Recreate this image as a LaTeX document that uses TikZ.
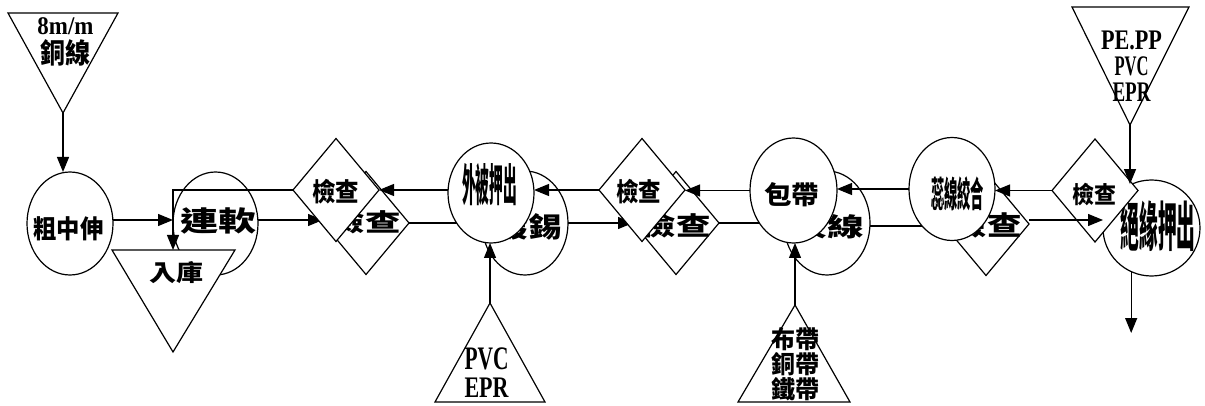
\documentclass[tikz,border=0pt]{standalone}
\usepackage{fontspec}
\usepackage{graphicx}
\usetikzlibrary{shapes.geometric,arrows.meta}
\newfontfamily\cjk{Noto Sans CJK TC}
\newfontfamily\lat{Liberation Serif}
% #1 ink width, #2 ink height (pt), #3 text
\newcommand\fitc[3]{\raisebox{0pt}[\fpeval{0.92*#2}pt][\fpeval{0.08*#2}pt]{\resizebox{#1pt}{\height}{\cjk\bfseries\fontsize{\fpeval{round(#2/0.9,3)}}{12}\selectfont #3}}}
\newcommand\fitl[3]{\raisebox{0pt}[#2pt][0pt]{\resizebox{#1pt}{\height}{\lat\bfseries\fontsize{\fpeval{round(#2/0.67,3)}}{12}\selectfont #3}}}
\begin{document}
\begin{tikzpicture}[x=1pt,y=-1pt,
  line width=1.2pt,
  every node/.style={inner sep=0pt,outer sep=0pt},
  proc/.style={ellipse,draw,fill=white,minimum width=86pt,minimum height=104pt},
  chk/.style={diamond,draw,fill=white,minimum width=86pt,minimum height=103pt},
  tri/.style={draw,fill=white,line join=miter},
  lbl/.style={align=center},
  arr/.style={-{Triangle[length=15pt,width=12pt]}}
]
\useasboundingbox (0,0) rectangle (1205,406);

% source triangles at the top
\draw[tri] (8,13) -- (118,13) -- (63,113) -- cycle;
\coordinate (t1a) at (63,113);
\node[lbl,font=\fontsize{10pt}{28.4pt}\selectfont] (t1t) at (65.5,41.5) {\fitl{56}{17}{8m/m}\\\fitc{50}{25}{銅線}};

\draw[tri] (1072,7) -- (1189,7) -- (1130,125) -- cycle;
\coordinate (t2a) at (1130,125);
\node[lbl,font=\fontsize{10pt}{26pt}\selectfont] (t2t) at (1131.5,66.5) {\fitl{61}{19}{PE.PP}\\\fitl{34}{19}{PVC}\\\fitl{38}{19}{EPR}};

% left part
\node[proc,minimum height=103pt] (cu) at (70,223.5) {};
\node (cut) at (68.5,228.5) {\fitc{70}{23}{粗中伸}};
\node[proc,minimum width=85pt,minimum height=103pt] (ruan) at (215.5,223.5) {};
\node (ruant) at (218.5,221.5) {\fitc{76}{25}{連軟}};
\draw[tri] (112,250) -- (235,250) -- (173,352) -- cycle;
\coordinate (rktop) at (173,250);
\node (rkt) at (176,272.5) {\fitc{54}{21}{入庫}};

% second row (behind)
\node[chk] (A2) at (366,223) {};
\node (A2t) at (365,222.5) {\fitc{71}{22}{檢查}};
\node[proc] (du) at (525,223) {};
\node (dut) at (528,227) {\fitc{67}{25}{鍍錫}};
\node[chk] (B2) at (676,223) {};
\node (B2t) at (676,226) {\fitc{69}{23}{檢查}};
\node[proc] (jiao) at (827,223) {};
\node (jiaot) at (827,226.5) {\fitc{73}{23}{絞線}};
\node[chk] (C2) at (986,224) {};
\node (C2t) at (987,225.5) {\fitc{69}{24}{檢查}};
\node[proc,minimum width=97pt,minimum height=96pt] (jue) at (1151.5,228) {};
\node (juet) at (1158,226) {\fitc{75}{48}{絕緣押出}};

% second row connectors
\draw[arr] ([yshift=3.5pt]cu.east) -- ([yshift=3.5pt]cu.east -| ruan.west);
\draw[arr] ([yshift=3.5pt]ruan.east) -- ([yshift=3.5pt]ruan.east -| A2.west);
\draw[arr] (A2.east) -- (du.west);
\draw[arr] (du.east) -- (B2.west);
\draw[arr] (B2.east) -- (jiao.west);
\draw[arr] ([yshift=-3pt]jiao.east) -- ([yshift=-3pt]jiao.east -| C2.west);

% first row (front)
\node[chk] (A1) at (336,190) {};
\node (A1t) at (335.5,191.5) {\fitc{47}{23}{檢查}};
\node[proc,minimum height=100pt] (wai) at (491,193) {};
\node (wait) at (489.5,185) {\fitc{55}{40}{外被押出}};
\node[chk] (B1) at (642,190) {};
\node (B1t) at (638.5,191.5) {\fitc{45}{23}{檢查}};
\node[proc,minimum width=87pt,minimum height=105pt] (bao) at (793.5,190.5) {};
\node (baot) at (791.5,194.5) {\fitc{55}{23}{包帶}};
\node[proc,minimum height=103pt] (rui) at (952,189) {};
\node (ruit) at (957.5,194) {\fitc{53}{32}{蕊線絞合}};
\node[chk] (C1) at (1095,190.5) {};
\node (C1t) at (1094,194.5) {\fitc{44}{21}{檢查}};

% first row connectors
\draw[arr] (C1.west) -- (C1.west -| rui.east);
\draw[arr] (rui.west) -- (rui.west -| bao.east);
\draw[arr] (bao.west) -- (bao.west -| B1.east);
\draw[arr] (B1.west) -- (B1.west -| wai.east);
\draw[arr] (wai.west |- A1.east) -- (A1.east);
\draw[arr] (A1.west) -| (rktop);

\draw[arr] ([yshift=4pt]C2.east) -- ([yshift=4pt]C2.east -| jue.west);

% vertical connectors
\draw[arr] (t1a) -- (t1a |- cu.north);
\draw[arr] (t2a) -- (t2a |- jue.114);
\coordinate (out) at (1131,333);
\draw[arr] (jue.245) -- (jue.245 |- out);

% bottom source triangles
\draw[tri] (435,402) -- (545,402) -- (490,303) -- cycle;
\coordinate (t3a) at (490,303);
\node[lbl,font=\fontsize{10pt}{28pt}\selectfont] (t3t) at (486.5,372.5) {\fitl{44}{22}{PVC}\\\fitl{44}{20}{EPR}};
\draw[arr] (t3a) -- (t3a |- wai.south);

\draw[tri] (738,402) -- (850,402) -- (795,305) -- cycle;
\coordinate (t4a) at (795,305);
\node[lbl,font=\fontsize{10pt}{25pt}\selectfont] (t4t) at (795,364) {\fitc{48}{22}{布帶}\\\fitc{48}{22}{銅帶}\\\fitc{48}{22}{鐵帶}};
\draw[arr] (t4a) -- (t4a |- bao.south);
\end{tikzpicture}
\end{document}
